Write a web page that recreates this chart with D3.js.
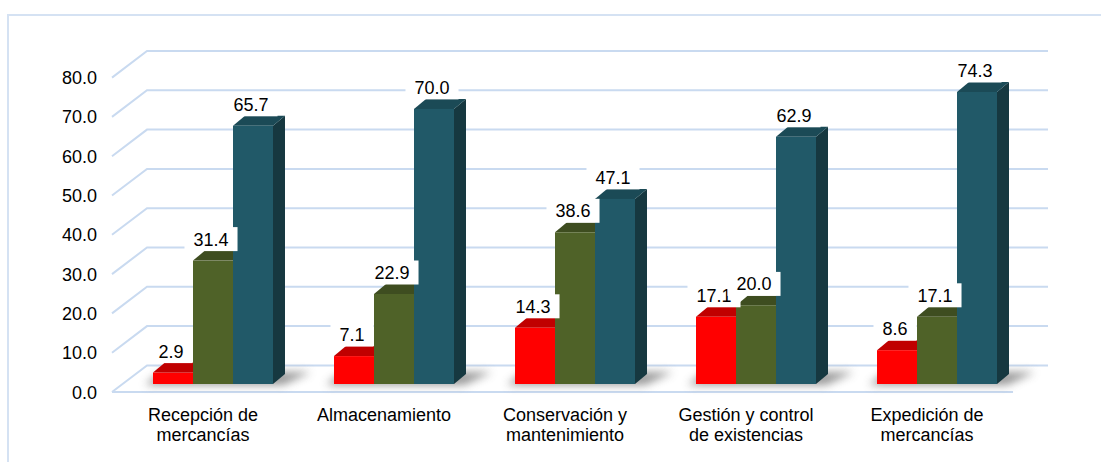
<!DOCTYPE html>
<html lang="en">
<head>
<meta charset="UTF-8">
<title>3D grouped bars</title>
<style>
  body { margin: 0; background: #fff; }
  text { font-family: "Liberation Sans", Arial, sans-serif; fill: #000; }
</style>
<script src="https://d3js.org/d3.v7.min.js"></script>
</head>
<body>
<script>
// data
var categories = [
  ["Recepción de", "mercancías"],
  ["Almacenamiento"],
  ["Conservación y", "mantenimiento"],
  ["Gestión y control", "de existencias"],
  ["Expedición de", "mercancías"]
];
var seriesNames = ["s1", "s2", "s3"];
var redValues   = [2.9, 7.1, 14.3, 17.1, 8.6];
var greenValues = [31.4, 22.9, 38.6, 20.0, 17.1];
var tealValues  = [65.7, 70.0, 47.1, 62.9, 74.3];
var yTicks = [0, 10, 20, 30, 40, 50, 60, 70, 80];

const W = 1101, H = 462;
const colors = {
  s1: { face: "#ff0000", top: "#c00000", side: "#a00000" },
  s2: { face: "#4f6228", top: "#3e4d20", side: "#36441c" },
  s3: { face: "#215968", top: "#1b4a56", side: "#163840" }
};
const depth = { dx: 12, dy: -10 };      // bar depth
const wall  = { fdx: -41, fdy: 8, bdx: -6, bdy: -18.6 }; // grid front/back offsets from bar plane

const svg = d3.select("body").append("svg")
  .attr("width", W).attr("height", H);

// outer frame
svg.append("rect")
  .attr("x", 8).attr("y", 15).attr("width", W).attr("height", H)
  .attr("fill", "none").attr("stroke", "#d5e2f3").attr("stroke-width", 2);

var yScale = d3.scaleLinear().domain([0, 80]).range([384, 69.6]);

var x0 = d3.scaleBand()
  .domain(d3.range(categories.length))
  .range([122.5, 122.5 + 5 * 181])
  .paddingInner(61 / 181)
  .paddingOuter(30.5 / 181);

var x1 = d3.scaleBand().domain(seriesNames).range([0, x0.bandwidth()]);

var frontX = 112, backX = 147, backEnd = 1048;

// grid lines
var grid = svg.append("g").attr("stroke", "#c9daf0").attr("stroke-width", 2).attr("fill", "none");
yTicks.forEach(function(t) {
  var y = yScale(t);
  grid.append("path")
    .attr("d", "M" + frontX + "," + (y + wall.fdy) + "L" + backX + "," + (y + wall.bdy) + "H" + backEnd);
});
grid.append("line")
  .attr("x1", frontX).attr("x2", backEnd - 35)
  .attr("y1", yScale(0) + wall.fdy).attr("y2", yScale(0) + wall.fdy);

// y tick labels
svg.append("g").selectAll("text")
  .data(yTicks).enter()
  .append("text")
  .attr("x", 97)
  .attr("y", d => yScale(d) + wall.fdy + 6.5)
  .attr("text-anchor", "end")
  .style("font-size", "18px")
  .text(d => d.toFixed(1));

// shadows under groups
var defs = svg.append("defs");
defs.append("filter").attr("id", "blur")
  .attr("x", "-20%").attr("y", "-100%").attr("width", "140%").attr("height", "300%")
  .append("feGaussianBlur").attr("stdDeviation", 4);

var base = yScale(0);
svg.append("g").selectAll("path")
  .data(categories).enter()
  .append("path")
  .attr("d", function(d, i) {
    var x = x0(i);
    return "M" + (x - 8) + "," + (base + 1) +
      "L" + (x + 130) + "," + (base + 1) +
      "L" + (x + 158) + "," + (base - 12) +
      "L" + (x + 8) + "," + (base - 12) + "Z";
  })
  .attr("fill", "#777")
  .attr("opacity", 0.75)
  .attr("filter", "url(#blur)");

// bars
var rows = [];
categories.forEach(function(c, i) {
  rows.push({ i: i, s: "s1", v: redValues[i] });
  rows.push({ i: i, s: "s2", v: greenValues[i] });
  rows.push({ i: i, s: "s3", v: tealValues[i] });
});

var bars = svg.append("g").selectAll("g")
  .data(rows).enter()
  .append("g");

bars.each(function(d) {
  var g = d3.select(this);
  var x = x0(d.i) + x1(d.s), w = x1.bandwidth();
  var yt = yScale(d.v), yb = yScale(0);
  var c = colors[d.s];
  g.append("path")  // side
    .attr("d", "M" + (x + w) + "," + yt + "L" + (x + w + depth.dx) + "," + (yt + depth.dy) +
      "L" + (x + w + depth.dx) + "," + (yb + depth.dy) + "L" + (x + w) + "," + yb + "Z")
    .attr("fill", c.side);
  g.append("path")  // top
    .attr("d", "M" + x + "," + yt + "L" + (x + depth.dx) + "," + (yt + depth.dy) +
      "L" + (x + w + depth.dx) + "," + (yt + depth.dy) + "L" + (x + w) + "," + yt + "Z")
    .attr("fill", c.top);
  g.append("rect")  // face
    .attr("x", x).attr("y", yt).attr("width", w).attr("height", yb - yt)
    .attr("fill", c.face);
});

// value labels, series by series
var labels = svg.append("g");
seriesNames.forEach(function(s) {
  rows.filter(r => r.s === s).forEach(function(d) {
    var cx = x0(d.i) + x1(d.s) + x1.bandwidth() / 2 - 2;
    var cy = yScale(d.v) + depth.dy - 11.5;
    var g = labels.append("g");
    var t = g.append("text")
      .attr("x", cx).attr("y", cy + 6.5)
      .attr("text-anchor", "middle")
      .style("font-size", "18px")
      .text(d.v.toFixed(1));
    var bw = t.node().getComputedTextLength() + 18;
    g.insert("rect", "text")
      .attr("x", cx - bw / 2).attr("y", cy - 12)
      .attr("width", bw).attr("height", 24)
      .attr("fill", "#fff");
  });
});

// category labels
svg.append("g").selectAll("text")
  .data(categories).enter()
  .append("text")
  .attr("text-anchor", "middle")
  .style("font-size", "18px")
  .each(function(d, i) {
    var cx = x0(i) + x0.bandwidth() / 2 - 10;
    d3.select(this).selectAll("tspan")
      .data(d).enter()
      .append("tspan")
      .attr("x", cx)
      .attr("y", (l, k) => 421 + k * 20)
      .text(l => l);
  });
</script>
</body>
</html>
